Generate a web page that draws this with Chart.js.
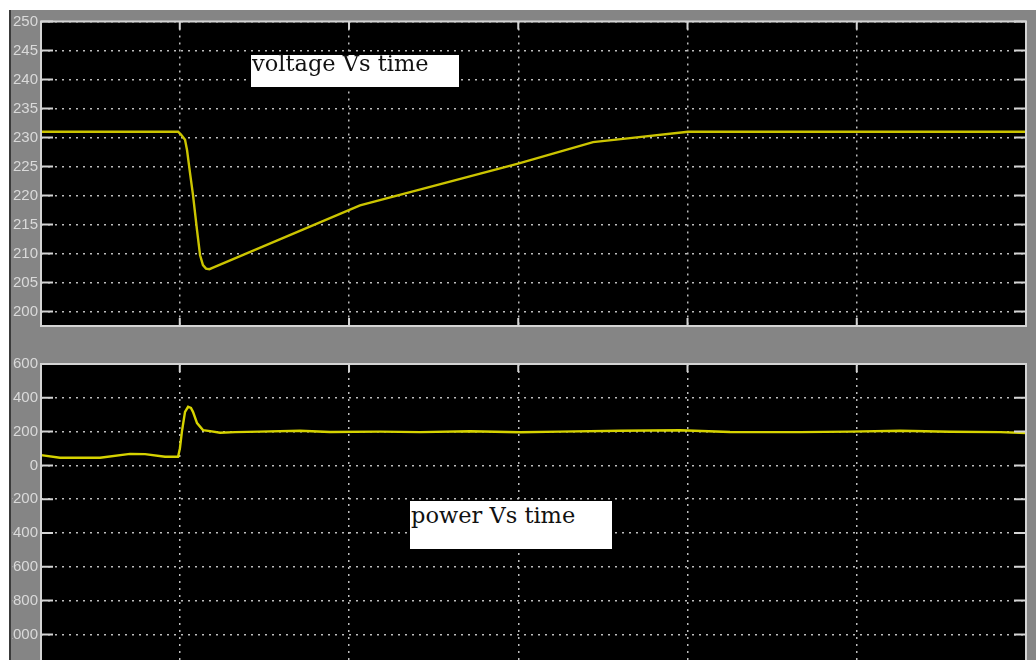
<!DOCTYPE html>
<html>
<head>
<meta charset="utf-8">
<title>voltage / power Vs time</title>
<script src="https://cdn.jsdelivr.net/npm/chart.js@4/dist/chart.umd.min.js"></script>
<style>
html, body { margin: 0; padding: 0; background: #fff; overflow: hidden; width: 1036px; height: 660px; }
#frame { position: absolute; left: 9px; top: 10px; width: 1040px; height: 700px; background: #858585; border-left: 2px solid #3a3a3a; }
canvas { position: absolute; }
#voltCanvas { left: 12px; top: 10px; }
#powerCanvas { left: 12px; top: 352px; }
.note { position: absolute; background: #fff; color: #111; font-family: "DejaVu Serif", serif; font-size: 22.5px; line-height: 17px; white-space: nowrap; padding-left: 1px; box-sizing: border-box; }
#voltNote { left: 251px; top: 55px; width: 208px; height: 32px; }
#powerNote { left: 410px; top: 501px; width: 202px; height: 48px; padding-top: 6px; }
</style>
</head>
<body>
<div id="frame"></div>
<canvas id="voltCanvas" width="1024" height="328"></canvas>
<canvas id="powerCanvas" width="1024" height="362"></canvas>
<div class="note" id="voltNote">voltage Vs time</div>
<div class="note" id="powerNote">power Vs time</div>
<script>
// ------------------------------
// Data
// ------------------------------
const timeTicks = [0.1, 0.2, 0.3, 0.4, 0.5];
const tMin = 0.018;
const tMax = 0.6;

const voltageTime = [0.018, 0.099, 0.1007, 0.1031, 0.1043, 0.106, 0.1078, 0.1102, 0.112, 0.1137, 0.1155, 0.1175,
    0.1200, 0.2065, 0.2999, 0.3442, 0.366, 0.4003, 0.6];
const voltage = [231, 231, 230.5, 229.6, 227.8, 224, 220.1, 214, 209.7, 208, 207.4, 207.3,
    207.6, 218.3, 225.5, 229.2, 229.9, 231, 231];
const voltageTicks = [200, 205, 210, 215, 220, 225, 230, 235, 240, 245, 250];

const powerTime = [0.018, 0.0292, 0.0529, 0.0706, 0.0795, 0.0913, 0.099, 0.1001, 0.1013, 0.1031, 0.1049, 0.1066,
    0.1078, 0.1102, 0.1137, 0.1179, 0.1238, 0.1326, 0.1474, 0.171, 0.1888, 0.2183, 0.242, 0.2715, 0.301,
    0.3247, 0.3601, 0.3956, 0.4251, 0.4665, 0.4961, 0.5256, 0.5551, 0.5847, 0.6];
const power = [61, 45, 45, 68, 67, 51, 51, 102, 203, 317, 347, 340,
    317, 250, 209, 203, 193, 197, 200, 205, 198, 200, 197, 202, 196,
    200, 205, 208, 198, 197, 200, 205, 199, 197, 192];
const powerTicks = [600, 400, 200, 0, -200, -400, -600, -800, -1000];

// ------------------------------
// Scope look: black plot, light frame, inner tick marks
// ------------------------------
const scopeFrame = {
    id: 'scopeFrame',
    beforeDraw(chart) {
        const { ctx, chartArea: a } = chart;
        ctx.save();
        ctx.fillStyle = '#000';
        ctx.fillRect(a.left, a.top, a.width, a.height);
        ctx.restore();
    },
    afterDraw(chart) {
        const { ctx, chartArea: a, scales } = chart;
        ctx.save();
        ctx.strokeStyle = '#d4d4d4';
        ctx.lineWidth = 2;
        ctx.beginPath();
        scales.y.ticks.forEach(t => {
            const y = scales.y.getPixelForValue(t.value);
            ctx.moveTo(a.left, y); ctx.lineTo(a.left + 12, y);
            ctx.moveTo(a.right - 12, y); ctx.lineTo(a.right, y);
        });
        scales.x.ticks.forEach(t => {
            const x = scales.x.getPixelForValue(t.value);
            ctx.moveTo(x, a.top); ctx.lineTo(x, a.top + 8);
            ctx.moveTo(x, a.bottom - 8); ctx.lineTo(x, a.bottom);
        });
        ctx.stroke();
        ctx.strokeRect(a.left, a.top, a.width, a.height);
        ctx.restore();
    }
};

const gridStyle = { color: '#bdbdbd', lineWidth: 1.5, drawTicks: false };
const dotted = { display: false, dash: [2, 5] };

function scopeChart(id, xs, ys, color, yMin, yMax, yTicks, padTop) {
    const ctx = document.getElementById(id).getContext('2d');
    return new Chart(ctx, {
        type: 'line',
        data: {
            datasets: [{
                data: xs.map((t, i) => ({ x: t, y: ys[i] })),
                borderColor: color,
                borderWidth: 2.4,
                pointRadius: 0,
                tension: 0,
                fill: false
            }]
        },
        options: {
            responsive: false,
            animation: false,
            layout: { padding: { top: padTop, right: 10, bottom: 12, left: 0 } },
            plugins: { legend: { display: false }, tooltip: { enabled: false } },
            scales: {
                x: {
                    type: 'linear', min: tMin, max: tMax,
                    afterBuildTicks: s => { s.ticks = timeTicks.map(v => ({ value: v })); },
                    ticks: { display: false },
                    grid: gridStyle,
                    border: dotted
                },
                y: {
                    min: yMin, max: yMax,
                    afterBuildTicks: s => { s.ticks = yTicks.map(v => ({ value: v })); },
                    afterFit: s => { s.width = 29; },
                    ticks: {
                        color: '#dadada',
                        padding: 3,
                        font: { family: 'Liberation Sans', size: 15, lineHeight: 1 },
                        callback: v => String(v)
                    },
                    grid: gridStyle,
                    border: dotted
                }
            }
        },
        plugins: [scopeFrame]
    });
}

scopeChart('voltCanvas', voltageTime, voltage, '#cbc400', 197.5, 250, voltageTicks, 11.5);
scopeChart('powerCanvas', powerTime, power, '#d6d300', -1400, 600, powerTicks, 12);
</script>
</body>
</html>
